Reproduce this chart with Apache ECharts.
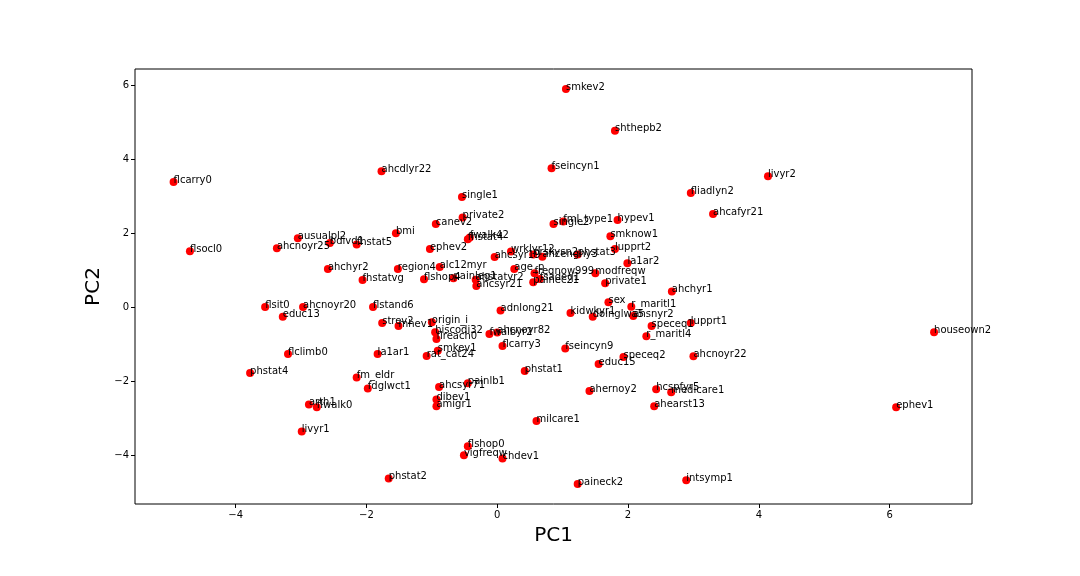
<!DOCTYPE html>
<html>
<head>
<meta charset="utf-8">
<script src="https://cdn.jsdelivr.net/npm/echarts@6/dist/echarts.min.js"></script>
<style>html,body{margin:0;padding:0;background:#fff}#c{width:1080px;height:576px}</style>
</head>
<body>
<div id="c"></div>
<script>
const names = ["smkev2","shthepb2","flcarry0","ahcdlyr22","fseincyn1","livyr2","fliadlyn2","single1","ahcafyr21","private2",
"canev2","single2","fml_type1","hypev1","bmi","ausualpl2","bdivd1","fhstat5","ahcnoyr25","flsocl0",
"fhstat4","fwalk42","smknow1","ephev2","lupprt2","ahcsyr19","wrklyr12","prskysn2","ahcenghy3","phstat3",
"la1ar2","ahchyr2","region4","alc12myr","age_p","freqnow999","modfreqw","fhstatvg","flshop4","painleg1",
"ahstatyr2","ahcsyr21","fsadeq1","painec21","private1","ahchyr1","sex","r_maritl1","flsit0","ahcnoyr20",
"flstand6","adnlong21","kidwkyr1","doinglwa5","ahsnyr2","educ13","houseown2","strev2","mhev1","origin_i",
"speceq1","lupprt1","hiscodi32","flreach0","fwalbyr2","ahcnoyr82","r_maritl4","flcarry3","fseincyn9","smkev1",
"rat_cat24","flclimb0","la1ar1","ahcnoyr22","speceq2","educ15","phstat1","phstat4","fm_eldr","painlb1",
"ahcsyr71","fdglwct1","hcspfyr5","ahernoy2","medicare1","dibev1","arth1","amigr1","ahearst13","flwalk0",
"ephev1","milcare1","livyr1","flshop0","vigfreqw","chdev1","phstat2","intsymp1","paineck2"];
const pc1 = [1.05,1.80,-4.95,-1.77,0.83,4.14,2.96,-0.54,3.30,-0.53,
-0.94,0.86,1.01,1.84,-1.55,-3.05,-2.56,-2.15,-3.37,-4.70,
-0.45,-0.42,1.73,-1.03,1.80,-0.04,0.21,0.55,0.69,1.23,
1.99,-2.59,-1.52,-0.88,0.26,0.57,1.50,-2.06,-1.12,-0.67,
-0.33,-0.32,0.65,0.55,1.65,2.67,1.70,2.05,-3.55,-2.97,
-1.90,0.05,1.12,1.46,2.08,-3.28,6.68,-1.76,-1.51,-1.00,
2.36,2.96,-0.95,-0.93,-0.12,0.00,2.28,0.08,1.04,-0.91,
-1.08,-3.20,-1.83,3.00,1.93,1.55,0.42,-3.78,-2.15,-0.45,
-0.89,-1.98,2.43,1.41,2.66,-0.93,-2.88,-0.93,2.40,-2.76,
6.10,0.60,-2.99,-0.45,-0.51,0.08,-1.66,2.89,1.23];
const pc2 = [5.89,4.76,3.38,3.67,3.75,3.53,3.08,2.97,2.51,2.42,
2.24,2.24,2.31,2.35,1.99,1.86,1.73,1.69,1.59,1.51,
1.83,1.88,1.91,1.57,1.57,1.35,1.50,1.42,1.36,1.42,
1.18,1.03,1.03,1.08,1.03,0.91,0.91,0.73,0.75,0.78,
0.74,0.57,0.76,0.67,0.64,0.42,0.13,0.01,0.00,0.00,
0.00,-0.09,-0.16,-0.26,-0.24,-0.26,-0.68,-0.43,-0.51,-0.41,
-0.51,-0.43,-0.68,-0.86,-0.73,-0.69,-0.79,-1.05,-1.12,-1.18,
-1.32,-1.27,-1.27,-1.33,-1.35,-1.54,-1.73,-1.78,-1.90,-2.06,
-2.16,-2.20,-2.22,-2.27,-2.30,-2.50,-2.63,-2.68,-2.68,-2.71,
-2.71,-3.08,-3.36,-3.76,-4.00,-4.09,-4.63,-4.68,-4.78];
const xTicks = [-4,-2,0,2,4,6];
const yTicks = [-4,-2,0,2,4,6];

const data = names.map((n,i)=>({name:n, value:[pc1[i], pc2[i]]}));
const font = 'DejaVu Sans';
const chart = echarts.init(document.getElementById('c'), null, {renderer:'canvas'});
const axisCommon = {
  type:'value',
  splitLine:{show:false},
  axisLine:{show:false, onZero:false},
  axisTick:{show:true, inside:false, length:4, lineStyle:{color:'#000', width:1}},
  axisLabel:{color:'#000', fontFamily:font, fontSize:10, margin:6},
  nameLocation:'middle',
  nameTextStyle:{color:'#000', fontFamily:font, fontSize:20}
};
chart.setOption({
  animation:false,
  backgroundColor:'#fff',
  grid:{left:135, right:108, top:69, bottom:72, show:true, borderColor:'#000', borderWidth:1, containLabel:false},
  xAxis:Object.assign({}, axisCommon, {
    min:-5.54, max:7.26, name:'PC1', nameGap:22, position:'bottom',
    axisTick:Object.assign({}, axisCommon.axisTick, {customValues:xTicks}),
    axisLabel:Object.assign({}, axisCommon.axisLabel, {customValues:xTicks, formatter:v=>String(v).replace('-','\u2212')})
  }),
  yAxis:Object.assign({}, axisCommon, {
    min:-5.32, max:6.43, name:'PC2', nameGap:27, position:'left',
    axisTick:Object.assign({}, axisCommon.axisTick, {customValues:yTicks}),
    axisLabel:Object.assign({}, axisCommon.axisLabel, {customValues:yTicks, formatter:v=>String(v).replace('-','\u2212')})
  }),
  series:[{
    type:'scatter',
    data:data,
    symbolSize:8,
    itemStyle:{color:'#ff0000', opacity:1},
    label:{show:true, formatter:p=>p.name, position:[4,7], align:'left', verticalAlign:'bottom',
      color:'#000', fontFamily:font, fontSize:10},
    emphasis:{disabled:true}
  }]
});
</script>
</body>
</html>
